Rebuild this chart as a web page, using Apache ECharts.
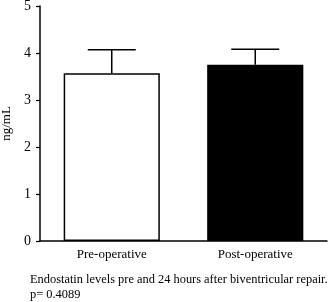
<!DOCTYPE html>
<html>
<head>
<meta charset="utf-8">
<script src="https://cdn.jsdelivr.net/npm/echarts@6/dist/echarts.min.js"></script>
<style>
  html, body { margin: 0; padding: 0; background: #fff; }
  #chart { width: 330px; height: 302px; }
</style>
</head>
<body>
<div id="chart"></div>
<script>
var categories = ["Pre-operative", "Post-operative"];
var means = [3.57, 3.75];
var errTop = [4.07, 4.08];
var barColors = ["#ffffff", "#000000"];
var yTicks = [0, 1, 2, 3, 4, 5];

var font = "Liberation Serif";
var dom = document.getElementById("chart");
var myChart = echarts.init(dom);

var option = {
    animation: false,
    grid: { left: 40, right: 3, top: 6, bottom: 61, outerBoundsMode: "none", containLabel: false },
    xAxis: {
        type: "category",
        data: categories,
        axisLine: { lineStyle: { color: "#000", width: 1.5 } },
        axisTick: { alignWithLabel: true, length: 4, lineStyle: { color: "#000", width: 1.2 } },
        axisLabel: { color: "#000", fontFamily: font, fontSize: 13, margin: 7 }
    },
    yAxis: {
        type: "value",
        min: 0, max: 5, interval: 1,
        name: "ng/mL",
        nameLocation: "middle",
        nameGap: 27,
        nameTextStyle: { color: "#000", fontFamily: font, fontSize: 13 },
        axisLine: { show: true, lineStyle: { color: "#000", width: 1.5 } },
        axisTick: { show: true, length: 4, lineStyle: { color: "#000", width: 1.2 } },
        axisLabel: { color: "#000", fontFamily: font, fontSize: 14, margin: 9,
            formatter: function (v) { return yTicks.indexOf(v) >= 0 ? String(v) : ""; } },
        splitLine: { show: false }
    },
    series: [
        {
            type: "bar",
            barWidth: "67%",
            data: means.map(function (v, i) {
                return { value: v, itemStyle: { color: barColors[i] } };
            }),
            itemStyle: { borderColor: "#000", borderWidth: 1.5 },
            z: 2
        },
        {
            type: "custom",
            z: 3,
            data: means.map(function (v, i) { return [i, v, errTop[i]]; }),
            renderItem: function (params, api) {
                var base = api.coord([api.value(0), api.value(1)]);
                var top = api.coord([api.value(0), api.value(2)]);
                var half = 24;
                var style = { stroke: "#000", lineWidth: 1.5 };
                return {
                    type: "group",
                    children: [
                        { type: "line", shape: { x1: base[0], y1: base[1], x2: top[0], y2: top[1] }, style: style },
                        { type: "line", shape: { x1: top[0] - half, y1: top[1], x2: top[0] + half, y2: top[1] }, style: style }
                    ]
                };
            }
        }
    ],
    graphic: [
        { type: "text", left: 30, top: 274,
          style: { text: "Endostatin levels pre and 24 hours after biventricular repair.", fill: "#000", font: "12.4px 'Liberation Serif'" } },
        { type: "text", left: 30, top: 289,
          style: { text: "p= 0.4089", fill: "#000", font: "12.4px 'Liberation Serif'" } }
    ]
};
myChart.setOption(option);
window.addEventListener("resize", function () {
    myChart.resize();
});
</script>
</body>
</html>
